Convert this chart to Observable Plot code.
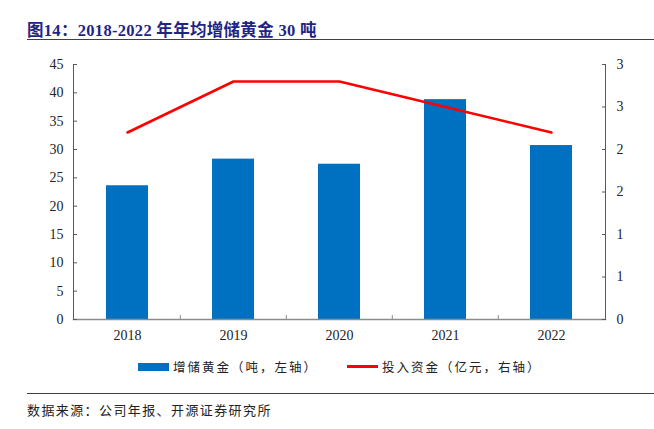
<!DOCTYPE html>
<html><head><meta charset="utf-8">
<script src="https://cdn.jsdelivr.net/npm/d3@7"></script>
<script src="https://cdn.jsdelivr.net/npm/@observablehq/plot@0.6"></script>
<style>
body{margin:0;background:#fff;width:654px;height:429px;overflow:hidden;position:relative;}
.title{position:absolute;left:27px;top:17px;font-family:"Liberation Serif","Noto Sans CJK SC",serif;font-weight:bold;font-size:16.5px;color:#1f2585;white-space:nowrap;letter-spacing:0.3px;}
.title .cjk{font-family:"Noto Sans CJK SC",sans-serif;font-weight:bold;}
.hr1{position:absolute;left:27px;right:0;top:39px;height:0;border-top:1.5px solid #404040;}
.hr2{position:absolute;left:27px;right:0;top:393px;height:0;border-top:1.5px solid #404040;}
#chart{position:absolute;left:0;top:0;}
.legend{position:absolute;top:357px;left:0;width:654px;font-family:"Noto Sans CJK SC",sans-serif;font-size:12.5px;color:#222;letter-spacing:2px;}
.legend .item{position:absolute;display:flex;align-items:center;white-space:nowrap;}
.src{position:absolute;left:27px;top:400px;font-family:"Noto Sans CJK SC",sans-serif;font-size:13px;color:#222;letter-spacing:1.4px;white-space:nowrap;}
</style></head>
<body>
<div class="title"><span class="cjk">图</span>14<span class="cjk">：</span>2018-2022 <span class="cjk">年年均增储黄金</span> 30 <span class="cjk">吨</span></div>
<div class="hr1"></div>
<div id="chart"></div>
<div class="legend">
  <div class="item" style="left:138px;top:0"><span style="display:inline-block;width:31px;height:8px;background:#0070C0;margin-right:4px"></span><span id="l1"></span></div>
  <div class="item" style="left:347px;top:0"><span style="display:inline-block;width:31px;height:3px;background:#FF0000;margin-right:4px"></span><span id="l2"></span></div>
</div>
<div class="hr2"></div>
<div class="src">数据来源：公司年报、开源证券研究所</div>
<script>
const years = ["2018","2019","2020","2021","2022"];
const goldAdded = [23.6, 28.3, 27.4, 38.8, 30.7];
const investment = [2.2, 2.8, 2.8, 2.5, 2.2];
const leftTicks = [0,5,10,15,20,25,30,35,40,45];
const rightTicks = [0,0.5,1,1.5,2,2.5,3];
const seriesNames = ["增储黄金（吨，左轴）","投入资金（亿元，右轴）"];

document.getElementById("l1").textContent = seriesNames[0];
document.getElementById("l2").textContent = seriesNames[1];

const ratio = 45 / 3;
const W = 654, mL = 73, mR = 49;
const step = (W - mL - mR) / years.length;
const bars = years.map((y,i)=>({year:y, v:goldAdded[i]}));
const line = years.map((y,i)=>({year:y, v:investment[i]*ratio}));
const font = "Liberation Serif, Times New Roman, serif";

const chart = Plot.plot({
  width: W, height: 345,
  marginLeft: mL, marginRight: mR, marginTop: 64, marginBottom: 26,
  style: {fontFamily: font, fontSize: "14px", color: "#222", background: "transparent"},
  x: {domain: years, paddingInner: 0.6, paddingOuter: 0.3, axis: null},
  y: {domain: [0,45], axis: null},
  marks: [
    Plot.barY(bars, {x: "year", y: "v", fill: "#0070C0"}),
    Plot.line(line, {x: "year", y: "v", stroke: "#FF0000", strokeWidth: 2.5}),
    Plot.frame({anchor: "left", stroke: "#595959"}),
    Plot.frame({anchor: "right", stroke: "#595959"}),
    Plot.frame({anchor: "bottom", stroke: "#8c8c8c", strokeWidth: 1.5}),
    Plot.ruleX(years.slice(1), {x: d=>d, dx: -step/2, y1: 0, y2: 0.7, stroke: "#8c8c8c"}),
    Plot.axisX({domain: years, tickSize: 0, tickPadding: 11, label: null, fontSize: "14px"}),
    Plot.axisY({ticks: leftTicks, tickSize: 0, tickPadding: 10, label: null, tickFormat: d=>String(d)}),
    Plot.axisY({ticks: leftTicks, tickSize: 4, text: null, dx: 4, stroke: "#595959", label: null}),
    Plot.axisY({anchor: "right", ticks: rightTicks.map(d=>d*ratio), tickSize: 0, tickPadding: 11, label: null,
      tickFormat: d => String(Math.round(d/ratio))}),
    Plot.axisY({anchor: "right", ticks: rightTicks.map(d=>d*ratio), tickSize: 4, text: null, dx: -4, stroke: "#595959", label: null})
  ]
});
document.getElementById("chart").appendChild(chart);
</script>
</body></html>
